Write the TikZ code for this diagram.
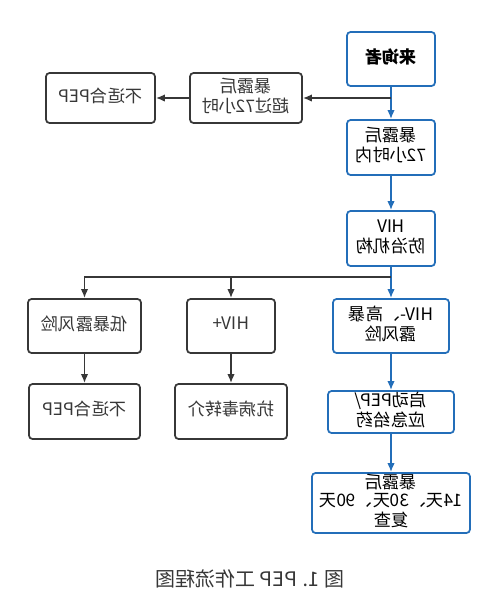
\documentclass[tikz,border=0pt]{standalone}
\usepackage{fontspec}
\usepackage{graphicx}
\newfontfamily\cjk{Noto Sans CJK SC}
\usetikzlibrary{arrows.meta}

\definecolor{flowblue}{RGB}{35,110,185}
\definecolor{flowgray}{RGB}{55,55,55}

% text of the reference is printed mirrored
\newcommand{\mirtext}[1]{\reflectbox{\begin{tabular}{@{}c@{}}#1\end{tabular}}}

\tikzset{
  boxblue/.style={draw=flowblue,line width=1pt,rounded corners=2pt,inner sep=0pt,
                  font=\cjk\fontsize{9.8}{11}\selectfont,text=black},
  boxgray/.style={draw=flowgray,line width=1pt,rounded corners=2pt,inner sep=0pt,
                  font=\cjk\fontsize{9.8}{11}\selectfont,text=flowgray},
  arrblue/.style={flowblue,line width=1pt,-{Latex[length=0.18cm,width=0.15cm]}},
  arrgray/.style={flowgray,line width=1pt,-{Latex[length=0.18cm,width=0.15cm]}},
}

\begin{document}
\begin{tikzpicture}[x=0.02cm,y=-0.02cm]
  \useasboundingbox[fill=white] (0,0) rectangle (500,596);

  % Boxes
  \node[boxblue,minimum width=1.76cm,minimum height=1.08cm] (visitor) at (391,59) {\mirtext{\bfseries 来询者}};
  \node[boxgray,minimum width=2.24cm,minimum height=1.0cm] (over72) at (246,98) {\mirtext{暴露后\\超过72小时}};
  \node[boxgray,minimum width=2.18cm,minimum height=1.0cm] (nopepA) at (100.5,98) {\mirtext{不适合PEP}};
  \node[boxblue,minimum width=1.76cm,minimum height=1.1cm] (within72) at (391,147.5) {\mirtext{暴露后\\72小时内}};
  \node[boxblue,minimum width=1.76cm,minimum height=1.1cm] (agency) at (391,238.5) {\mirtext{HIV\\防治机构}};
  \node[boxgray,minimum width=2.26cm,minimum height=1.08cm] (lowrisk) at (84.5,326) {\mirtext{低暴露风险}};
  \node[boxgray,minimum width=1.76cm,minimum height=1.08cm] (hivpos) at (231,326) {\mirtext{HIV+}};
  \node[boxblue,minimum width=2.32cm,minimum height=1.08cm] (highrisk) at (391,326) {\mirtext{HIV-、高暴\\露风险}};
  \node[boxgray,minimum width=2.22cm,minimum height=1.1cm] (nopepB) at (84.5,411.5) {\mirtext{不适合PEP}};
  \node[boxgray,minimum width=2.24cm,minimum height=1.1cm] (referral) at (231,411.5) {\mirtext{抗病毒转介}};
  \node[boxblue,minimum width=2.52cm,minimum height=0.84cm] (startpep) at (391,412) {\mirtext{启动PEP/\\应急给药}};
  \node[boxblue,minimum width=3.16cm,minimum height=1.2cm,
        font=\cjk\fontsize{9.8}{10.4}\selectfont] (followup) at (391,503) {\mirtext{暴露后\\14天、30天、90天\\复查}};

  % Connectors
  \draw[arrblue] (visitor) -- (within72);
  \draw[arrgray] (visitor.south |- over72.east) -- (over72.east);
  \draw[arrgray] (over72) -- (nopepA);
  \draw[arrblue] (within72) -- (agency);
  \coordinate (fork) at (391,277);
  \draw[flowblue,line width=1pt] (agency.south) -- (fork);
  \draw[arrblue] (fork) -- (highrisk.north);
  \draw[arrgray] (fork) -| (lowrisk.north);
  \draw[arrgray] (fork -| hivpos.north) -- (hivpos.north);
  \draw[arrgray] (lowrisk) -- (nopepB);
  \draw[arrgray] (hivpos) -- (referral);
  \draw[arrblue] (highrisk) -- (startpep);
  \draw[arrblue] (startpep) -- (followup);

  % Caption
  \node[font=\cjk\fontsize{11.4}{13}\selectfont,text=flowgray] (caption) at (250,582) {\mirtext{图 1. PEP 工作流程图}};
\end{tikzpicture}
\end{document}
